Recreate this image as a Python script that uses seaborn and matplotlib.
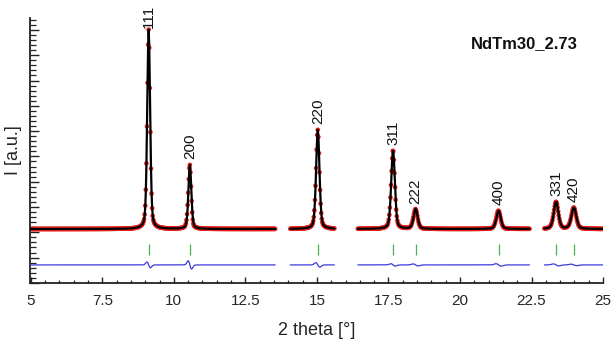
import numpy as np
import pandas as pd
import matplotlib
matplotlib.use("Agg")
import matplotlib.pyplot as plt
import seaborn as sns
from matplotlib.ticker import MultipleLocator, FuncFormatter

sns.set_theme(style="ticks")
plt.rcParams['font.family'] = ['Liberation Sans', 'DejaVu Sans']

# ---- data ----
hkl = ["111", "200", "220", "311", "222", "400", "331", "420"]
peak_pos = [9.12, 10.56, 15.03, 17.66, 18.45, 21.35, 23.36, 23.98]
peak_height = [7.88, 2.53, 3.92, 3.12, 0.78, 0.72, 1.07, 0.84]
peak_fwhm = [0.12, 0.12, 0.14, 0.15, 0.17, 0.18, 0.19, 0.20]
diff_amp = [0.12, 0.17, 0.09, 0.05, 0.04, 0.05, 0.04, 0.03]
label_gap = [1.5, 4, 4, 4, 4, 4, 4, 4]
segments = [(5.0, 13.55), (14.07, 15.62), (16.43, 22.44), (22.95, 25.0)]
background = 2.13
diff_offset = 0.71
tick_lo, tick_hi = 1.11, 1.54
sample_name = "NdTm30_2.73"
step = 0.02


def profile(x):
    y = np.full_like(x, background)
    d = np.zeros_like(x)
    for p, h, w, a in zip(peak_pos, peak_height, peak_fwhm, diff_amp):
        g = np.exp(-4 * np.log(2) * ((x - p) / w) ** 2)
        l = 1.0 / (1 + 4 * ((x - p) / w) ** 2)
        y += h * (0.65 * g + 0.35 * l)
        d += -a * ((x - p) / (w * 0.5)) * np.exp(-((x - p) / (w * 0.7)) ** 2) * 1.6
    return y, d


fig = plt.figure(figsize=(6.11, 3.40), dpi=100)
ax = fig.add_axes([0.049, 0.168, 0.938, 0.779])

for (a, b) in segments:
    x = np.arange(a, b + 1e-9, step)
    calc, diff = profile(x)
    obs = calc + diff
    df = pd.DataFrame({"x": x, "obs": obs, "calc": calc, "diff": diff + diff_offset})
    sns.scatterplot(data=df, x="x", y="obs", ax=ax, color="#e8201c", s=11,
                    edgecolor="none", zorder=2, legend=False)
    sns.lineplot(data=df, x="x", y="calc", ax=ax, color="black", lw=1.6,
                 zorder=3, sort=False, estimator=None)
    sns.lineplot(data=df, x="x", y="diff", ax=ax, color="#3a3adb", lw=0.9,
                 zorder=3, sort=False, estimator=None)

ax.vlines(peak_pos, tick_lo, tick_hi, color="#4caf50", lw=0.9)

for p, h, lab, gap in zip(peak_pos, peak_height, hkl, label_gap):
    ax.annotate(lab, (p, background + h), xytext=(0, gap), textcoords="offset points",
                rotation=90, ha="center", va="bottom", fontsize=11,
                color="#111111", annotation_clip=False, clip_on=False)

ax.text(0.955, 0.905, sample_name, transform=ax.transAxes, ha="right",
        va="center", fontsize=12, fontweight="bold", color="#111111")

ax.set_xlim(4.97, 25.0)
ax.set_ylim(0, 10.47)
ax.xaxis.set_major_locator(MultipleLocator(2.5))
ax.xaxis.set_minor_locator(MultipleLocator(0.5))
ax.yaxis.set_major_locator(MultipleLocator(1))
ax.yaxis.set_minor_locator(MultipleLocator(0.2))
ax.xaxis.set_major_formatter(FuncFormatter(lambda v, _: f"{v:g}"))
ax.set_yticklabels([])
ax.tick_params(axis="y", which="major", direction="in", length=6.5, width=1.0, color="#222222")
ax.tick_params(axis="y", which="minor", direction="in", length=4, width=0.9, color="#222222")
ax.tick_params(axis="x", which="major", direction="in", length=4, width=1.0,
               labelsize=11, pad=8, color="#222222")
ax.tick_params(axis="x", which="minor", direction="in", length=2.5, width=0.9, color="#222222")
ax.tick_params(axis="y", which="both", left=True, labelleft=False)
sns.despine(ax=ax)
for s in ["left", "bottom"]:
    ax.spines[s].set_linewidth(1.3)
    ax.spines[s].set_color("#222222")

ax.set_xlabel("2 theta [°]", fontsize=13, labelpad=10)
ax.set_ylabel("I [a.u.]", fontsize=13, labelpad=6)

fig.savefig("out.png", dpi=100)
